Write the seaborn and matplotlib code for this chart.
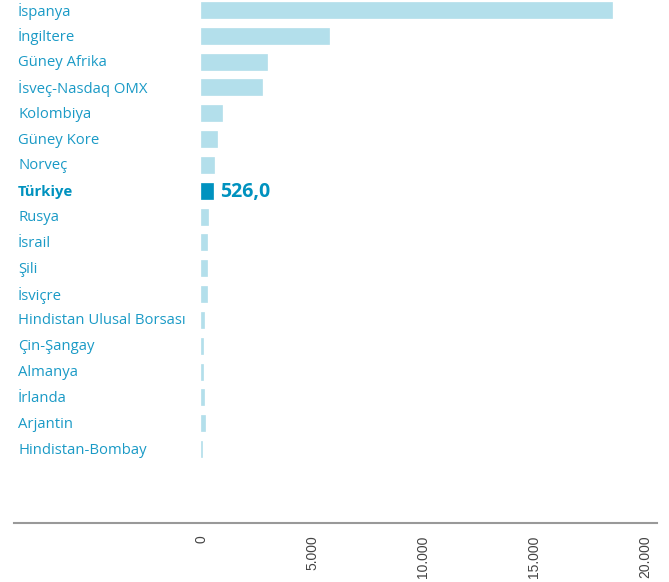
import matplotlib
matplotlib.use("Agg")
import matplotlib.pyplot as plt
import matplotlib.transforms as mtransforms
import seaborn as sns
import pandas as pd

countries = [
    "İspanya", "İngiltere", "Güney Afrika", "İsveç-Nasdaq OMX", "Kolombiya",
    "Güney Kore", "Norveç", "Türkiye", "Rusya", "İsrail", "Şili", "İsviçre",
    "Hindistan Ulusal Borsası", "Çin-Şangay", "Almanya", "İrlanda",
    "Arjantin", "Hindistan-Bombay",
]
values = [
    18500, 5770, 2970, 2750, 950, 720, 590, 526.0, 320, 280, 270, 270,
    140, 100, 100, 140, 180, 60,
]
highlight = "Türkiye"
highlight_label = "526,0"
xticks = [0, 5000, 10000, 15000, 20000]
xtick_labels = ["0", "5.000", "10.000", "15.000", "20.000"]

light = "#b3dfeb"
dark = "#0092bf"
text_col = "#1a9ac6"

df = pd.DataFrame({"country": countries, "value": values})
palette = {c: (dark if c == highlight else light) for c in countries}

sns.set_style("white")
plt.rcParams["font.family"] = ["Open Sans", "DejaVu Sans"]

fig = plt.figure(figsize=(6.69, 5.82), dpi=100)
W, H = 669, 582
ax_left, ax_right, ax_top, ax_bottom = 14, 657, 0, 523
ax = fig.add_axes([ax_left / W, 1 - ax_bottom / H,
                   (ax_right - ax_left) / W, (ax_bottom - ax_top) / H])

sns.barplot(data=df, y="country", x="value", hue="country", palette=palette,
            orient="h", width=0.62, legend=False, ax=ax, saturation=1)
# thin outline in the same colour so tiny bars still show
for p in ax.patches:
    p.set_edgecolor(p.get_facecolor())
    p.set_linewidth(0.5)

# data 0 sits at pixel 201, ~22.2 px per 1000
px_per_unit = 22.2 / 1000
ax.set_xlim(-(201 - ax_left) / px_per_unit, (ax_right - 201) / px_per_unit)
row_px = (449 - 10) / 17
ax.set_ylim(17 + (ax_bottom - 449) / row_px, -10 / row_px)

for s in ["top", "right", "left"]:
    ax.spines[s].set_visible(False)
ax.spines["bottom"].set_color("#999999")
ax.spines["bottom"].set_linewidth(1.5)

ax.set_xticks(xticks)
ax.set_xticklabels(xtick_labels, rotation=90, fontsize=10, color="#444444",
                   family=["Liberation Sans", "DejaVu Sans"], va="top")
ax.tick_params(axis="x", length=0, pad=9)
ax.set_yticks([])
ax.set_xlabel("")
ax.set_ylabel("")

trans = mtransforms.blended_transform_factory(fig.transFigure, ax.transData)
for i, c in enumerate(countries):
    bold = c == highlight
    ax.text(18 / W, i + 0.04, c, transform=trans, ha="left", va="center",
            fontsize=10.7, color=dark if bold else text_col,
            fontweight="bold" if bold else "normal")

hi = countries.index(highlight)
ax.annotate(highlight_label, xy=(values[hi], hi + 0.04), xytext=(5, 0),
            textcoords="offset points", ha="left", va="center",
            fontsize=14, fontweight="bold", color=dark)

fig.savefig("out.png", dpi=100)
